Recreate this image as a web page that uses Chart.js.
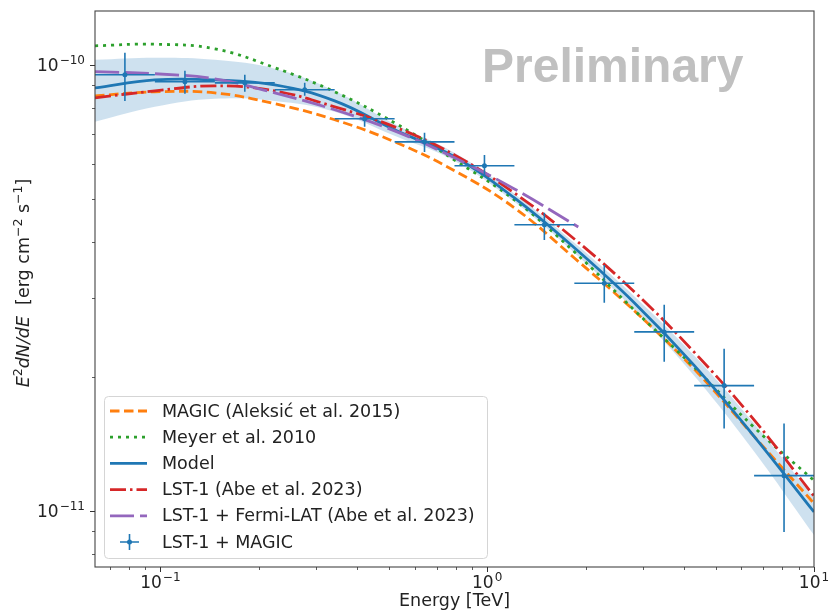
<!DOCTYPE html>
<html lang="en">
<head>
  <meta charset="UTF-8">
  <title>Spectral energy distribution</title>
  <script src="https://cdn.jsdelivr.net/npm/chart.js"></script>
  <style>
    html, body { margin: 0; padding: 0; background: #fff; }
    #wrap { width: 829px; height: 616px; }
  </style>
</head>
<body>
  <div id="wrap"><canvas id="sed" width="829" height="616"></canvas></div>

  <script>
    // energy grid (TeV) used for the model curves
    const energyGrid = [0.0631, 0.0962, 0.1468, 0.2239, 0.3415, 0.5209, 0.7943, 1.2115, 1.8478, 2.8184, 4.2987, 6.5563, 10];
    const magicFlux = [8.52e-11, 8.70e-11, 8.65e-11, 8.18e-11, 7.53e-11, 6.72e-11, 5.79e-11, 4.78e-11, 3.69e-11, 2.81e-11, 2.08e-11, 1.47e-11, 1.04e-11];
    const meyerFlux = [1.103e-10, 1.112e-10, 1.086e-10, 9.85e-11, 8.70e-11, 7.41e-11, 6.12e-11, 4.98e-11, 3.81e-11, 2.82e-11, 2.10e-11, 1.54e-11, 1.17e-11];
    const modelFlux = [8.88e-11, 9.25e-11, 9.25e-11, 9.02e-11, 8.30e-11, 7.15e-11, 6.22e-11, 5.03e-11, 3.89e-11, 2.93e-11, 2.12e-11, 1.47e-11, 9.95e-12];
    const modelHigh = [1.026e-10, 1.037e-10, 1.026e-10, 9.80e-11, 8.74e-11, 7.37e-11, 6.35e-11, 5.14e-11, 3.99e-11, 3.03e-11, 2.23e-11, 1.57e-11, 1.07e-11];
    const modelLow = [7.45e-11, 8.05e-11, 8.39e-11, 8.30e-11, 7.85e-11, 6.93e-11, 6.09e-11, 4.93e-11, 3.79e-11, 2.82e-11, 2.01e-11, 1.36e-11, 8.83e-12];
    const lstFlux = [8.43e-11, 8.74e-11, 8.97e-11, 8.74e-11, 8.05e-11, 7.26e-11, 6.28e-11, 5.16e-11, 4.07e-11, 3.10e-11, 2.27e-11, 1.60e-11, 1.08e-11];
    const fermiEnergy = [0.0631, 0.0962, 0.1468, 0.2239, 0.3415, 0.5209, 0.7943, 1.2115, 1.9];
    const fermiFlux = [9.65e-11, 9.55e-11, 9.30e-11, 8.65e-11, 7.93e-11, 7.11e-11, 6.19e-11, 5.27e-11, 4.33e-11];

    // LST-1 + MAGIC flux points
    const binCenter = [0.0779, 0.1189, 0.1813, 0.2765, 0.4217, 0.6431, 0.981, 1.496, 2.282, 3.481, 5.309, 8.097];
    const binLow = [0.0631, 0.0962, 0.1468, 0.2239, 0.3415, 0.5209, 0.7943, 1.2115, 1.8478, 2.8184, 4.2987, 6.5563];
    const binHigh = [0.0962, 0.1468, 0.2239, 0.3415, 0.5209, 0.7943, 1.2115, 1.8478, 2.8184, 4.2987, 6.5563, 10];
    const pointFlux = [9.50e-11, 9.16e-11, 9.11e-11, 8.79e-11, 7.57e-11, 6.72e-11, 5.94e-11, 4.38e-11, 3.24e-11, 2.52e-11, 1.91e-11, 1.20e-11];
    const fluxHigh = [1.064e-10, 9.70e-11, 9.50e-11, 9.11e-11, 7.72e-11, 7.04e-11, 6.28e-11, 4.66e-11, 3.56e-11, 2.90e-11, 2.31e-11, 1.57e-11];
    const fluxLow = [8.30e-11, 8.61e-11, 8.70e-11, 8.52e-11, 7.26e-11, 6.38e-11, 5.61e-11, 4.05e-11, 2.93e-11, 2.16e-11, 1.53e-11, 8.97e-12];

    // ticks
    const xMajor = [0.1, 1, 10];
    const xMajorExp = ['\u22121', '0', '1'];
    const xMinor = [0.07, 0.08, 0.09, 0.2, 0.3, 0.4, 0.5, 0.6, 0.7, 0.8, 0.9, 2, 3, 4, 5, 6, 7, 8, 9];
    const yMajor = [1e-11, 1e-10];
    const yMajorExp = ['\u221211', '\u221210'];
    const yMinor = [8e-12, 9e-12, 2e-11, 3e-11, 4e-11, 5e-11, 6e-11, 7e-11, 8e-11, 9e-11];

    const legendLabels = [
      'MAGIC (Aleksi\u0107 et al. 2015)',
      'Meyer et al. 2010',
      'Model',
      'LST-1 (Abe et al. 2023)',
      'LST-1 + Fermi-LAT (Abe et al. 2023)',
      'LST-1 + MAGIC'
    ];

    const FONT = '"DejaVu Sans", sans-serif';
    const BLUE = '#1f77b4';

    const toXY = (xs, ys) => xs.map((e, i) => ({ x: e, y: ys[i] }));

    function curve(label, xs, ys, color, dash, order) {
      return {
        label, data: toXY(xs, ys), borderColor: color, borderWidth: 2.8,
        borderDash: dash, borderCapStyle: 'butt', pointRadius: 0,
        tension: 0.4, fill: false, order
      };
    }

    // draws "10" with a raised exponent, anchored by its right edge or centre
    function drawPower(ctx, exp, x, y, align) {
      ctx.font = '17px ' + FONT;
      const wb = ctx.measureText('10').width;
      ctx.font = '12px ' + FONT;
      const we = ctx.measureText(exp).width;
      const total = wb + we + 1;
      const left = align === 'right' ? x - total : x - total / 2;
      ctx.textAlign = 'left';
      ctx.textBaseline = 'alphabetic';
      ctx.font = '17px ' + FONT;
      ctx.fillText('10', left, y);
      ctx.font = '12px ' + FONT;
      ctx.fillText(exp, left + wb + 1, y - 7);
    }

    function drawRich(ctx, parts, cx, baseline) {
      let total = 0;
      parts.forEach(p => { ctx.font = p.f; p.w = ctx.measureText(p.t).width; total += p.w; });
      let x = cx - total / 2;
      ctx.textAlign = 'left';
      ctx.textBaseline = 'alphabetic';
      parts.forEach(p => {
        ctx.font = p.f;
        ctx.fillText(p.t, x, baseline + (p.dy || 0));
        x += p.w;
      });
    }

    const decor = {
      id: 'decor',
      afterDatasetsDraw(chart) {
        const { ctx, chartArea: a, scales: { x, y } } = chart;
        ctx.save();
        ctx.beginPath();
        ctx.rect(a.left, a.top, a.right - a.left, a.bottom - a.top);
        ctx.clip();
        // error bars
        ctx.strokeStyle = BLUE;
        ctx.lineWidth = 1.6;
        binCenter.forEach((e, i) => {
          const px = x.getPixelForValue(e);
          const py = y.getPixelForValue(pointFlux[i]);
          ctx.beginPath();
          ctx.moveTo(x.getPixelForValue(binLow[i]), py);
          ctx.lineTo(x.getPixelForValue(binHigh[i]), py);
          ctx.moveTo(px, y.getPixelForValue(fluxHigh[i]));
          ctx.lineTo(px, y.getPixelForValue(fluxLow[i]));
          ctx.stroke();
        });
        // watermark
        ctx.fillStyle = '#c0c0c0';
        ctx.font = 'bold 48px "Liberation Sans", Arial, sans-serif';
        ctx.textAlign = 'left';
        ctx.textBaseline = 'alphabetic';
        ctx.fillText('Preliminary', 482, 82);
        ctx.restore();
      },
      afterDraw(chart) {
        const { ctx, chartArea: a, scales: { x, y }, data } = chart;
        ctx.save();
        // frame
        ctx.strokeStyle = '#444';
        ctx.lineWidth = 1.1;
        ctx.strokeRect(a.left, a.top, a.right - a.left, a.bottom - a.top);

        // ticks
        ctx.strokeStyle = '#333';
        const tick = (px, py, dx, dy, w) => {
          ctx.lineWidth = w;
          ctx.beginPath();
          ctx.moveTo(px, py);
          ctx.lineTo(px + dx, py + dy);
          ctx.stroke();
        };
        xMajor.forEach(v => tick(Math.round(x.getPixelForValue(v)) + 0.5, a.bottom, 0, 5, 1));
        xMinor.forEach(v => tick(Math.round(x.getPixelForValue(v)) + 0.5, a.bottom, 0, 3, 0.8));
        yMajor.forEach(v => tick(a.left, Math.round(y.getPixelForValue(v)) + 0.5, -5, 0, 1));
        yMinor.forEach(v => tick(a.left, Math.round(y.getPixelForValue(v)) + 0.5, -3, 0, 0.8));

        // tick labels
        ctx.fillStyle = '#222';
        xMajor.forEach((v, i) => drawPower(ctx, xMajorExp[i], x.getPixelForValue(v), a.bottom + 21, 'center'));
        yMajor.forEach((v, i) => drawPower(ctx, yMajorExp[i], a.left - 10, y.getPixelForValue(v) + 6, 'right'));

        // axis titles
        ctx.font = '17.5px ' + FONT;
        ctx.textAlign = 'center';
        ctx.textBaseline = 'alphabetic';
        ctx.fillText('Energy [TeV]', (a.left + a.right) / 2, 606);

        ctx.save();
        ctx.translate(29, (a.top + a.bottom) / 2 - 6);
        ctx.rotate(-Math.PI / 2);
        const it = 'italic 17.5px ' + FONT, rm = '17.5px ' + FONT, sup = '12.5px ' + FONT;
        drawRich(ctx, [
          { t: 'E', f: it }, { t: '2', f: sup, dy: -7 }, { t: 'dN/dE', f: it },
          { t: '  [erg cm', f: rm }, { t: '\u22122', f: sup, dy: -7 },
          { t: ' s', f: rm }, { t: '\u22121', f: sup, dy: -7 }, { t: ']', f: rm }
        ], 0, 0);
        ctx.restore();

        // legend
        const lx = 104, ly = 396, lw = 383, lh = 162;
        ctx.beginPath();
        ctx.roundRect(lx + 0.5, ly + 0.5, lw, lh, 4);
        ctx.fillStyle = 'rgba(255,255,255,0.85)';
        ctx.fill();
        ctx.strokeStyle = '#d5d5d5';
        ctx.lineWidth = 1;
        ctx.stroke();

        const rowDatasets = [2, 3, 4, 5, 6, 7];
        legendLabels.forEach((label, i) => {
          const ds = data.datasets[rowDatasets[i]];
          const cy = 411 + i * 26.2;
          if (ds.showLine === false) {
            ctx.strokeStyle = BLUE;
            ctx.lineWidth = 1.6;
            ctx.setLineDash([]);
            ctx.beginPath();
            ctx.moveTo(120, cy); ctx.lineTo(139, cy);
            ctx.moveTo(129.5, cy - 8); ctx.lineTo(129.5, cy + 8);
            ctx.stroke();
            ctx.fillStyle = BLUE;
            ctx.beginPath();
            ctx.arc(129.5, cy, 2.5, 0, Math.PI * 2);
            ctx.fill();
          } else {
            ctx.strokeStyle = ds.borderColor;
            ctx.lineWidth = ds.borderWidth;
            ctx.lineCap = 'butt';
            ctx.setLineDash(ds.borderDash || []);
            ctx.beginPath();
            ctx.moveTo(110, cy); ctx.lineTo(147, cy);
            ctx.stroke();
            ctx.setLineDash([]);
          }
          ctx.fillStyle = '#222';
          ctx.font = '17.5px ' + FONT;
          ctx.textAlign = 'left';
          ctx.textBaseline = 'middle';
          ctx.fillText(label, 162, cy + 1);
        });
        ctx.restore();
      }
    };

    new Chart(document.getElementById('sed'), {
      type: 'line',
      data: {
        datasets: [
          { label: 'band high', data: toXY(energyGrid, modelHigh), borderWidth: 0, pointRadius: 0, tension: 0.4, fill: false, order: 10 },
          { label: 'band low', data: toXY(energyGrid, modelLow), borderWidth: 0, pointRadius: 0, tension: 0.4,
            fill: '-1', backgroundColor: 'rgba(31,119,180,0.22)', order: 9 },
          curve('MAGIC (Aleksi\u0107 et al. 2015)', energyGrid, magicFlux, '#ff7f0e', [9.5, 4.5], 6),
          curve('Meyer et al. 2010', energyGrid, meyerFlux, '#2ca02c', [3, 5], 5),
          curve('Model', energyGrid, modelFlux, BLUE, [], 4),
          curve('LST-1 (Abe et al. 2023)', energyGrid, lstFlux, '#d62728', [16, 4, 2.5, 4], 3),
          curve('LST-1 + Fermi-LAT (Abe et al. 2023)', fermiEnergy, fermiFlux, '#9467bd', [24, 6], 2),
          { label: 'LST-1 + MAGIC', data: toXY(binCenter, pointFlux), showLine: false,
            pointRadius: 2.5, pointBackgroundColor: BLUE, pointBorderWidth: 0, order: 1 }
        ]
      },
      options: {
        responsive: false,
        devicePixelRatio: 1,
        animation: false,
        layout: { padding: { top: 11, right: 15, left: 0, bottom: 0 } },
        plugins: { legend: { display: false }, tooltip: { enabled: false } },
        scales: {
          x: {
            type: 'logarithmic', min: 0.0631, max: 10,
            grid: { display: false }, border: { display: false },
            ticks: { display: false },
            afterFit: s => { s.height = 49; }
          },
          y: {
            type: 'logarithmic', min: 7.49e-12, max: 1.32e-10,
            grid: { display: false }, border: { display: false },
            ticks: { display: false },
            afterFit: s => { s.width = 95; }
          }
        }
      },
      plugins: [decor]
    });
  </script>
</body>
</html>
